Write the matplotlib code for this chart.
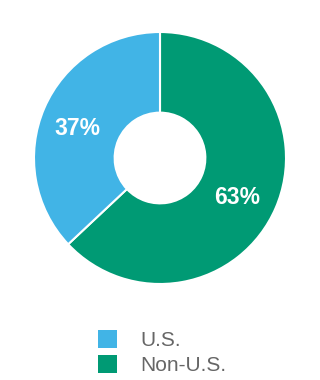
import matplotlib
matplotlib.use("Agg")
import matplotlib.pyplot as plt
from matplotlib.patches import Patch

labels = ["Non-U.S.", "U.S."]
shares = [63, 37]
colors = ["#009a74", "#41b4e6"]
legend_order = ["U.S.", "Non-U.S."]

plt.rcParams["font.family"] = ["Liberation Sans", "DejaVu Sans"]

fig = plt.figure(figsize=(3.2, 3.8), dpi=100)
ax = fig.add_axes([34 / 320, 96 / 380, 252 / 320, 252 / 380])

wedges, _, autotexts = ax.pie(
    shares, colors=colors, startangle=90, counterclock=False,
    radius=1.0, autopct="%d%%", pctdistance=0.69,
    wedgeprops=dict(width=0.64, edgecolor="white", linewidth=1.5),
    textprops=dict(color="white", fontsize=16.5, fontweight="bold"))
for t in autotexts:
    x, y = t.get_position()
    t.set_position((x - 0.02, y - 0.04))
ax.set_xlim(-1, 1)
ax.set_ylim(-1, 1)
ax.set_aspect("equal")
ax.axis("off")

handles = [Patch(facecolor=colors[labels.index(l)], edgecolor="none") for l in legend_order]
fig.legend(handles, legend_order, loc="upper left",
           bbox_to_anchor=(83 / 320, 1 - 315 / 380), frameon=False,
           fontsize=15, labelcolor="#666666", handlelength=0.95, handleheight=0.95,
           handletextpad=1.1, labelspacing=0.25, borderpad=0.2)

fig.savefig("out.png", dpi=100)
